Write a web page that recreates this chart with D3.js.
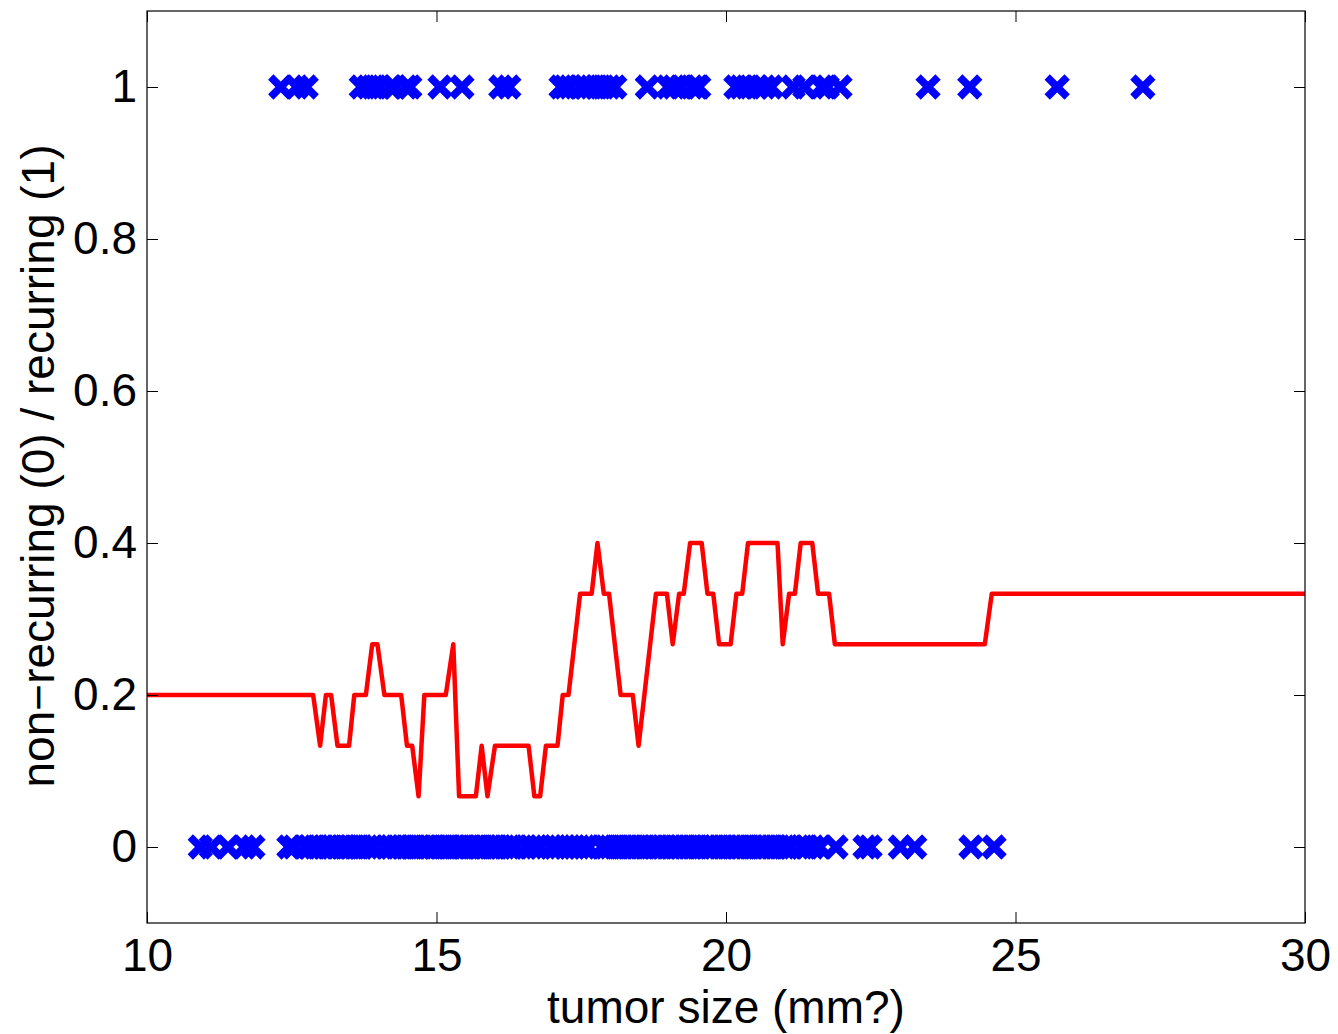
<!DOCTYPE html>
<html>
<head>
<meta charset="utf-8">
<script src="https://cdn.jsdelivr.net/npm/d3@7"></script>
<style>
  html, body { margin: 0; padding: 0; background: #fff; }
  svg { display: block; }
  text { font-family: "Liberation Sans", Arial, Helvetica, sans-serif; }
</style>
</head>
<body>
<svg id="chart" width="1338" height="1034"></svg>
<script>
// ---- data ----
const xTicks = [10, 15, 20, 25, 30];
const yTicks = [0, 0.2, 0.4, 0.6, 0.8, 1];
const yTickLabels = ["0", "0.2", "0.4", "0.6", "0.8", "1"];

// tumor sizes of recurring cases (class 1)
const recurringX = [12.31, 12.59, 12.75,
  13.70, 13.82, 13.90, 14.01, 14.20, 14.28, 14.47, 14.54,
  15.06, 15.44, 16.11, 16.25,
  17.15, 17.22, 17.31, 17.50, 17.58, 17.67, 17.77, 17.88, 17.98, 18.08,
  18.64, 19.00, 19.10, 19.22, 19.41, 19.50, 19.53,
  20.17, 20.26, 20.36, 20.54, 20.66, 20.78, 21.16, 21.36, 21.65, 21.75, 21.97,
  23.49, 24.21, 25.72, 27.20];

// tumor sizes of non-recurring cases (class 0)
const nonRecurringX = [10.92, 11.11, 11.40, 11.68, 11.83,
  12.45, 12.54, 12.73, 12.81, 12.90, 12.95, 13.05, 13.12, 13.20, 13.27, 13.36, 13.42, 13.50, 13.58, 13.66, 13.71, 13.80, 13.88, 13.96,
  14.15, 14.22, 14.30, 14.34, 14.42, 14.50, 14.58, 14.64, 14.71, 14.80, 14.87, 14.95, 15.00, 15.08, 15.16, 15.22, 15.30, 15.37, 15.45,
  15.50, 15.58, 15.66, 15.73, 15.80, 15.86, 15.95, 16.02, 16.10, 16.17, 16.25, 16.30, 16.36,
  16.55, 16.64, 16.72, 16.79,
  16.98, 17.05, 17.13, 17.22, 17.30, 17.38, 17.46, 17.55, 17.63,
  17.86, 17.93, 18.00, 18.08, 18.15, 18.22, 18.30, 18.37, 18.45, 18.52, 18.60, 18.66, 18.75, 18.82, 18.90, 18.97,
  19.05, 19.12, 19.20, 19.28, 19.35, 19.42, 19.50, 19.56, 19.65, 19.72, 19.80, 19.88, 19.95,
  20.02, 20.10, 20.18, 20.25, 20.33, 20.40, 20.47, 20.55, 20.62, 20.70, 20.78, 20.85, 20.92, 21.00, 21.06, 21.12,
  21.31, 21.40, 21.50, 21.62, 21.90,
  22.40, 22.49, 23.01, 23.26, 24.23, 24.63];

// predicted fraction of recurring neighbours (red curve) — breakpoints
const curveX = [10, 12.87, 12.99, 13.09, 13.18, 13.29, 13.49, 13.58, 13.78, 13.89, 13.98, 14.10, 14.39, 14.49, 14.58, 14.69,
  14.79, 15.16, 15.29, 15.39, 15.68, 15.78, 15.88, 16.01, 16.59, 16.69, 16.79, 16.89, 17.09, 17.18, 17.28, 17.48, 17.68,
  17.78, 17.89, 17.98, 18.18, 18.39, 18.49, 18.79, 18.98, 19.08, 19.19, 19.27, 19.38, 19.58, 19.68, 19.78, 19.88, 20.08,
  20.18, 20.28, 20.38, 20.89, 20.98, 21.09, 21.19, 21.29, 21.49, 21.59, 21.78, 21.88, 24.47, 24.59, 30];
const curveY = [0.2, 0.2, 0.1333, 0.2, 0.2, 0.1333, 0.1333, 0.2, 0.2, 0.2667, 0.2667, 0.2, 0.2, 0.1333, 0.1333, 0.0667,
  0.2, 0.2, 0.2667, 0.0667, 0.0667, 0.1333, 0.0667, 0.1333, 0.1333, 0.0667, 0.0667, 0.1333, 0.1333, 0.2, 0.2, 0.3333, 0.3333,
  0.4, 0.3333, 0.3333, 0.2, 0.2, 0.1333, 0.3333, 0.3333, 0.2667, 0.3333, 0.3333, 0.4, 0.4, 0.3333, 0.3333, 0.2667, 0.2667,
  0.3333, 0.3333, 0.4, 0.4, 0.2667, 0.3333, 0.3333, 0.4, 0.4, 0.3333, 0.3333, 0.2667, 0.2667, 0.3333, 0.3333];

// ---- layout ----
const L = 147, R = 1305, T = 11, B = 923;
const svg = d3.select("#chart");
const x = d3.scaleLinear().domain([10, 30]).range([L, R]);
const y = d3.scaleLinear().domain([-0.1, 1.1]).range([B, T]);
const FS = 46;

// red curve
const line = d3.line().x((d, i) => x(curveX[i])).y((d, i) => y(curveY[i]));
svg.append("path")
  .attr("d", line(curveX))
  .attr("fill", "none")
  .attr("stroke", "#ff0000")
  .attr("stroke-width", 4.5)
  .attr("stroke-linejoin", "round");

// x markers
const a = 10;
const xMark = `M${-a},${-a}L${a},${a}M${-a},${a}L${a},${-a}`;
const pts = nonRecurringX.map(v => ({v, c: 0})).concat(recurringX.map(v => ({v, c: 1})));
svg.append("g").selectAll("path").data(pts).join("path")
  .attr("transform", d => `translate(${x(d.v)},${y(d.c)})`)
  .attr("d", xMark)
  .attr("fill", "none")
  .attr("stroke", "#0000ff")
  .attr("stroke-width", 7.5);

// axes
function style(g) {
  g.select(".domain").remove();
  g.selectAll(".tick line").attr("stroke", "#000").attr("stroke-width", 1);
  g.selectAll("text").attr("font-size", FS).attr("fill", "#000")
    .attr("font-family", '"Liberation Sans", Arial, Helvetica, sans-serif');
}
svg.append("g").attr("transform", `translate(0,${B})`)
  .call(d3.axisBottom(x).tickValues(xTicks).tickFormat(d3.format("d")).tickSizeInner(-11).tickSizeOuter(0).tickPadding(15))
  .call(style);
svg.append("g").attr("transform", `translate(0,${T})`)
  .call(d3.axisTop(x).tickValues(xTicks).tickFormat("").tickSizeInner(-11).tickSizeOuter(0))
  .call(style);
svg.append("g").attr("transform", `translate(${L},0)`)
  .call(d3.axisLeft(y).tickValues(yTicks).tickFormat((d, i) => yTickLabels[i]).tickSizeInner(-11).tickSizeOuter(0).tickPadding(10))
  .call(style);
svg.append("g").attr("transform", `translate(${R},0)`)
  .call(d3.axisRight(y).tickValues(yTicks).tickFormat("").tickSizeInner(-11).tickSizeOuter(0))
  .call(style);

// frame
svg.append("rect").attr("x", L).attr("y", T).attr("width", R - L).attr("height", B - T)
  .attr("fill", "none").attr("stroke", "#000").attr("stroke-width", 1.2);

// axis titles
svg.append("text").attr("x", (L + R) / 2).attr("y", 1023).attr("text-anchor", "middle")
  .attr("font-size", FS).text("tumor size (mm?)");
svg.append("text").attr("transform", `translate(54,466) rotate(-90)`)
  .attr("text-anchor", "middle").attr("font-size", FS).text("non\u2212recurring (0) / recurring (1)");
</script>
</body>
</html>
